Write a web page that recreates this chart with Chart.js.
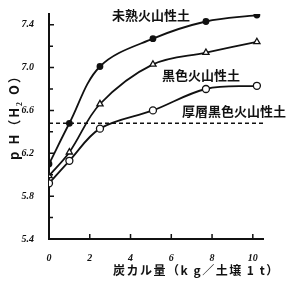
<!DOCTYPE html>
<html>
<head>
<meta charset="utf-8">
<script src="https://cdn.jsdelivr.net/npm/chart.js@4/dist/chart.umd.min.js"></script>
<style>
  html, body { margin: 0; padding: 0; background: #fff; }
  #wrap { width: 298px; height: 288px; }
</style>
</head>
<body>
<div id="wrap"><canvas id="phChart" width="298" height="288"></canvas></div>
<script>
// 炭カル量 (kg / 土壌1t)
const lime = [0, 1, 2.5, 5.1, 7.7, 10.2];
// pH (H2O) for each soil
const mijuku = [6.10, 6.48, 7.01, 7.27, 7.43, 7.49];   // 未熟火山性土
const kuroiro = [5.99, 6.21, 6.66, 7.03, 7.14, 7.24];  // 黒色火山性土
const atsuso = [5.92, 6.13, 6.43, 6.60, 6.80, 6.83];   // 厚層黒色火山性土
const refLine = 6.48; // dashed reference level
const xTicks = [0, 2, 4, 6, 8, 10];
const yTicks = [5.4, 5.8, 6.2, 6.6, 7.0, 7.4];
const yMinor = [5.6, 6.0, 6.4, 6.8, 7.2];
const seriesNames = ['未熟火山性土', '黒色火山性土', '厚層黒色火山性土'];

const toPoints = vals => vals.map((v, i) => ({ x: lime[i], y: v }));
const ink = '#111';

// inner tick marks, curve labels and axis titles
const decorations = {
    id: 'decorations',
    afterDraw(chart) {
        const { ctx, scales: { x, y } } = chart;
        const left = x.left, bottom = y.bottom;
        ctx.save();
        ctx.strokeStyle = ink;
        ctx.lineWidth = 1.5;
        ctx.beginPath();
        yTicks.forEach(v => { const py = y.getPixelForValue(v); ctx.moveTo(left, py); ctx.lineTo(left + 5, py); });
        yMinor.forEach(v => { const py = y.getPixelForValue(v); ctx.moveTo(left, py); ctx.lineTo(left + 4, py); });
        xTicks.slice(1).forEach(v => { const px = x.getPixelForValue(v); ctx.moveTo(px, bottom); ctx.lineTo(px, bottom - 5); });
        ctx.stroke();

        ctx.fillStyle = ink;
        ctx.textBaseline = 'middle';
        ctx.font = 'bold 13px "Noto Sans CJK JP"';
        ctx.textAlign = 'left';
        ctx.fillText(seriesNames[0], 112, 15);
        ctx.fillText(seriesNames[1], 162, 75);
        ctx.fillText(seriesNames[2], 182, 111);

        ctx.font = 'bold 12px "Noto Sans CJK JP"';
        ctx.letterSpacing = '1.5px';
        ctx.fillText('炭カル量（k g／土壌 1 t）', 113, 270);

        ctx.translate(14, 114);
        ctx.rotate(-Math.PI / 2);
        ctx.textAlign = 'center';
        ctx.font = 'bold 13px "Noto Sans CJK JP"';
        ctx.letterSpacing = '2px';
        ctx.fillText('p H（H₂ O）', 0, 0);
        ctx.restore();
    }
};

const tickFont = { family: '"Liberation Serif"', size: 10, weight: 'bold', style: 'italic' };

new Chart(document.getElementById('phChart'), {
    type: 'line',
    data: {
        datasets: [
            {
                data: toPoints(mijuku),
                borderColor: ink, borderWidth: 1.8, tension: 0.35,
                pointStyle: 'circle', pointRadius: 2.5,
                pointBackgroundColor: ink, pointBorderColor: ink
            },
            {
                data: toPoints(kuroiro),
                borderColor: ink, borderWidth: 1.8, tension: 0.35,
                pointStyle: 'triangle', pointRadius: 3.6, pointBorderWidth: 1.3,
                pointBackgroundColor: '#fff', pointBorderColor: ink
            },
            {
                data: toPoints(atsuso),
                borderColor: ink, borderWidth: 1.8, tension: 0.35,
                pointStyle: 'circle', pointRadius: 3.5, pointBorderWidth: 1.3,
                pointBackgroundColor: '#fff', pointBorderColor: ink
            },
            {
                data: [{ x: 0, y: refLine }, { x: 10.5, y: refLine }],
                borderColor: ink, borderWidth: 1.4, borderDash: [4, 3],
                pointRadius: 0
            }
        ]
    },
    options: {
        responsive: false,
        animation: false,
        layout: { padding: { top: 14, right: 35, left: 0, bottom: 0 } },
        plugins: { legend: { display: false }, tooltip: { enabled: false } },
        scales: {
            x: {
                type: 'linear', min: 0, max: 10.5,
                afterBuildTicks: axis => { axis.ticks = xTicks.map(v => ({ value: v })); },
                afterFit: axis => { axis.height = 49; },
                grid: { display: false },
                border: { color: ink, width: 2 },
                ticks: { color: ink, font: tickFont, padding: 5, maxRotation: 0 }
            },
            y: {
                min: 5.4, max: 7.5,
                afterBuildTicks: axis => { axis.ticks = yTicks.map(v => ({ value: v })); },
                afterFit: axis => { axis.width = 49; },
                grid: { display: false },
                border: { color: ink, width: 2 },
                ticks: { color: ink, font: tickFont, padding: 7, callback: v => v.toFixed(1) }
            }
        }
    },
    plugins: [decorations]
});
</script>
</body>
</html>
